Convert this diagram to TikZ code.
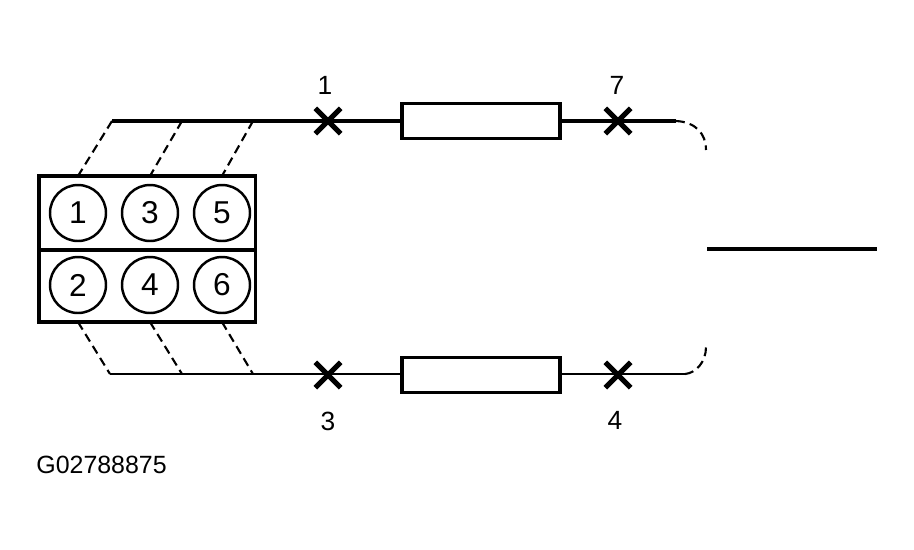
\documentclass[tikz,border=0pt]{standalone}
\usepackage{fontspec}
\setmainfont{Liberation Sans}
\usetikzlibrary{shapes.misc}
\definecolor{inkblack}{RGB}{0,0,0}

\tikzset{
  bank/.style={draw=inkblack,line width=1.2pt,minimum width=4.34cm,minimum height=1.44cm,inner sep=0pt},
  cyl/.style={draw=inkblack,circle,line width=1.4pt,minimum size=1.12cm,inner sep=0pt,font=\fontsize{18}{18}\selectfont},
  muffler/.style={draw=inkblack,line width=1.8pt,minimum width=3.16cm,minimum height=0.7cm,inner sep=0pt},
  plug/.style={draw=inkblack,cross out,line width=3pt,minimum size=0.4cm,inner sep=0pt},
  pipelabel/.style={font=\fontsize{15}{15}\selectfont,inner sep=0pt},
  pipedash/.style={line width=1.2pt,dash pattern=on 5pt off 3pt}
}

\begin{document}
\begin{tikzpicture}[x=0.02cm,y=-0.02cm]
    \useasboundingbox (0,0) rectangle (914,549);
    % engine block
    \node[bank] (banka) at (147,213) {};
    \node[bank] (bankb) at (147,285) {};
    \draw[inkblack,line width=2.8pt] (39,176) -- (39,322);
    \draw[inkblack,line width=1.8pt] (banka.north west) -- (banka.north east);
    \draw[inkblack,line width=1.8pt] (banka.south west) -- (banka.south east);
    \draw[inkblack,line width=1.8pt] (bankb.south west) -- (bankb.south east);
    % cylinders
    \node[cyl] (cyla) at (78,213) {1};
    \node[cyl] (cylc) at (150,213) {3};
    \node[cyl] (cyle) at (222,213) {5};
    \node[cyl] (cylb) at (78,285) {2};
    \node[cyl] (cyld) at (150,285) {4};
    \node[cyl] (cylf) at (222,285) {6};
    % mufflers
    \node[muffler] (mufa) at (481,121) {};
    \node[muffler] (mufb) at (481,375) {};
    % pipe ends
    \coordinate (topa) at (112,121);
    \coordinate (topb) at (182,121);
    \coordinate (topc) at (253,121);
    \coordinate (lowa) at (110,374);
    \coordinate (lowb) at (182,374);
    \coordinate (lowc) at (253,374);
    \coordinate (outa) at (676,121);
    \coordinate (outb) at (685,374);
    \coordinate (tail) at (707,249);
    \coordinate (tailend) at (877,249);
    % upper pipe
    \draw[inkblack,line width=2.2pt] (topa) -- (mufa.west);
    \draw[inkblack,line width=2.2pt] (mufa.east) -- (outa);
    % lower pipe
    \draw[inkblack,line width=1.2pt] (lowa) -- (lowa -| mufb.west);
    \draw[inkblack,line width=1.2pt] (outb -| mufb.east) -- (outb);
    % tail pipe
    \draw[inkblack,line width=2.3pt] (tail) -- (tailend);
    % manifolds
    \draw[pipedash] (topa) -- (cyla.north |- banka.north);
    \draw[pipedash] (topb) -- (cylc.north |- banka.north);
    \draw[pipedash] (topc) -- (cyle.north |- banka.north);
    \draw[pipedash] (bankb.south -| cylb.south) -- (lowa);
    \draw[pipedash] (bankb.south -| cyld.south) -- (lowb);
    \draw[pipedash] (bankb.south -| cylf.south) -- (lowc);
    % bends
    \draw[pipedash] (outa) .. controls (696,122) and (706,134) .. (706,150);
    \draw[pipedash] (outb) .. controls (696,373) and (706,362) .. (706,347);
    % plugs
    \node[plug] (plga) at (328,121) {};
    \node[plug] (plgb) at (618,121) {};
    \node[plug] (plgc) at (328,375) {};
    \node[plug] (plgd) at (618,375) {};
    \node[pipelabel] (numa) at (325,85) {1};
    \node[pipelabel] (numb) at (617,85) {7};
    \node[pipelabel] (numc) at (328,421) {3};
    \node[pipelabel] (numd) at (615,420) {4};
    \node[font=\fontsize{14.2}{14.2}\selectfont,inner sep=0pt,anchor=west] (code) at (36,465) {G02788875};
\end{tikzpicture}
\end{document}
